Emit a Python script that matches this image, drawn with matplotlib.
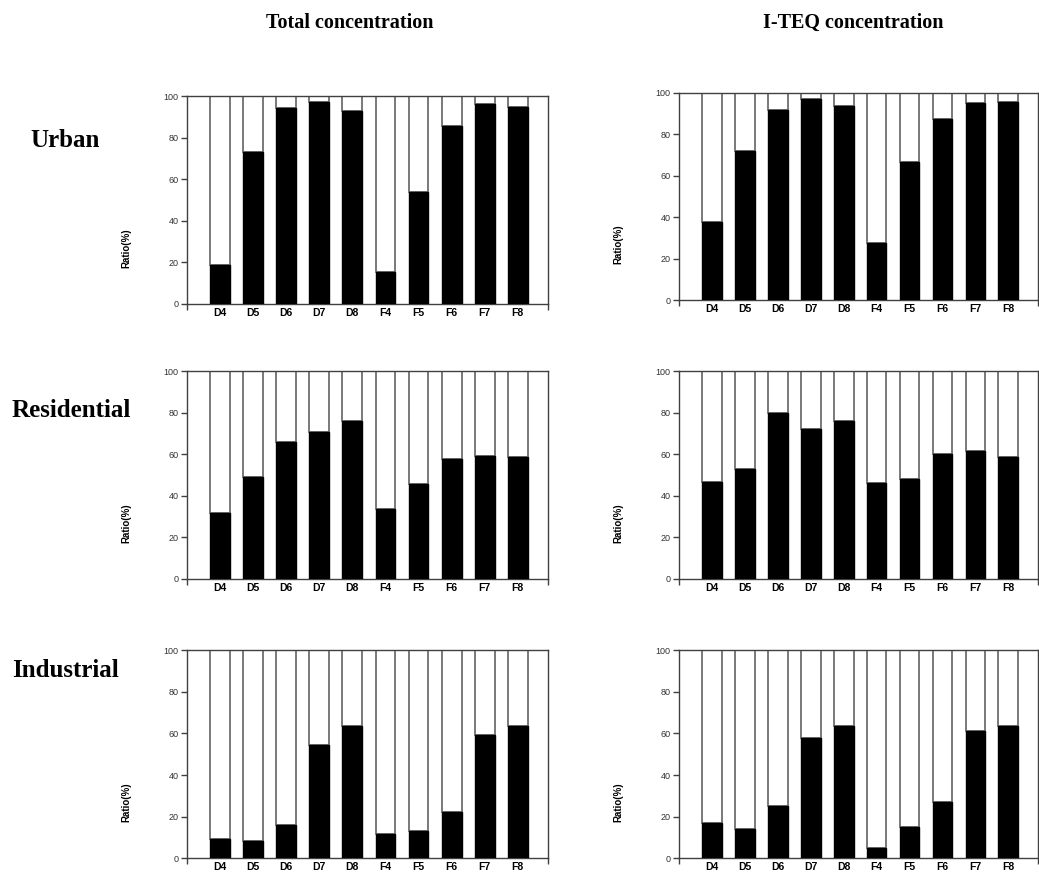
import matplotlib.pyplot as plt
import numpy as np

categories = ['D4', 'D5', 'D6', 'D7', 'D8', 'F4', 'F5', 'F6', 'F7', 'F8']
row_labels = ['Urban', 'Residential', 'Industrial']
col_titles = ['Total concentration', 'I-TEQ concentration']

# ratio (%) of the black part for each panel
urban_total = [18.5, 73.0, 94.0, 97.3, 93.0, 15.3, 54.0, 85.7, 96.2, 94.9]
urban_teq = [37.6, 72.0, 91.8, 96.8, 93.3, 27.4, 66.4, 87.5, 94.9, 95.4]
resid_total = [31.7, 49.2, 65.9, 70.8, 76.0, 33.7, 45.7, 57.7, 59.1, 58.7]
resid_teq = [46.6, 52.9, 80.0, 72.1, 76.0, 46.2, 48.1, 60.1, 61.5, 58.7]
indus_total = [9.3, 8.3, 16.0, 54.6, 63.7, 11.7, 13.2, 22.3, 59.4, 63.7]
indus_teq = [16.8, 13.9, 25.0, 57.6, 63.4, 4.8, 14.9, 26.9, 61.0, 63.8]

panels = [[urban_total, urban_teq],
          [resid_total, resid_teq],
          [indus_total, indus_teq]]

fig = plt.figure(figsize=(10.39, 8.73), dpi=100)

lefts = [0.180, 0.6535]
widths = [0.347, 0.3455]
bottoms = [[0.652, 0.656], [0.337, 0.337], [0.017, 0.017]]
height = 0.238

x = np.arange(len(categories))
for r in range(3):
    for c in range(2):
        ax = fig.add_axes([lefts[c], bottoms[r][c], widths[c], height])
        vals = np.array(panels[r][c])
        ax.bar(x, 100 - vals, bottom=vals, width=0.6, color='white',
               edgecolor='#6e6e6e', linewidth=1.3, zorder=2)
        ax.bar(x, vals, width=0.6, color='black', edgecolor='black',
               linewidth=1.0, zorder=3)
        ax.set_xlim(-1.0, 9.9)
        ax.set_ylim(0, 100)
        ax.set_yticks([0, 20, 40, 60, 80, 100])
        ax.set_xticks(x)
        ax.set_xticklabels(categories, fontsize=7.5, fontweight='bold',
                           family='Liberation Sans')
        ax.set_xticks([-1.0, 9.9], minor=True)
        ax.tick_params(axis='x', which='major', length=0, pad=3)
        ax.tick_params(axis='x', which='minor', length=4, width=1,
                       color='#404040', direction='out')
        ax.tick_params(axis='y', length=4, width=1, color='#404040',
                       labelsize=6.5, labelcolor='#333333', pad=2)
        for lab in ax.get_yticklabels():
            lab.set_family('Liberation Sans')
        for sp in ax.spines.values():
            sp.set_color('#404040')
            sp.set_linewidth(1.0)
        ax.set_ylabel('Ratio(%)', fontsize=7, fontweight='bold',
                      family='Liberation Sans')
        ax.yaxis.set_label_coords(-0.155, 0.27)

for c, t in enumerate(col_titles):
    fig.text([0.337, 0.821][c], 0.974, t, ha='center', va='center',
             fontsize=14.5, fontweight='bold', family='Liberation Serif')

row_y = [0.839, 0.530, 0.232]
row_x = [0.063, 0.069, 0.063]
for r, t in enumerate(row_labels):
    fig.text(row_x[r], row_y[r], t, ha='center', va='center',
             fontsize=18, fontweight='bold', family='Liberation Serif')

fig.savefig('out.png', dpi=100)
